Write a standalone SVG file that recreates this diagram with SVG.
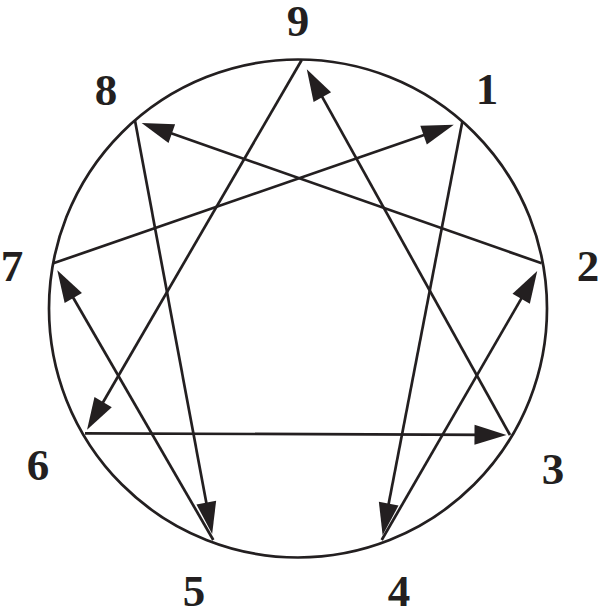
<svg xmlns="http://www.w3.org/2000/svg" width="600" height="610" viewBox="0 0 600 610">
<style>
.ln{stroke:#231f20;stroke-width:2.7;fill:none}
.lbl{font-family:"Liberation Serif","DejaVu Serif",serif;font-weight:bold;font-size:45px;fill:#231f20;text-anchor:middle}
</style>
<defs>
<marker id="ah" markerUnits="userSpaceOnUse" viewBox="-13 -11 34 22" markerWidth="34" markerHeight="22" refX="0" refY="0" orient="auto">
<path d="M20,0 L-12,-10 L-12,10 z" fill="#231f20"/>
</marker>
</defs>
<rect width="600" height="610" fill="#fff"/>
<g id="circle"><circle cx="298" cy="308.5" r="249" class="ln"/></g>
<g id="connectors">
<line class="ln" x1="510" y1="435" x2="316.5" y2="86.7" marker-end="url(#ah)"/>
<line class="ln" x1="301.7" y1="60" x2="97.1" y2="412.5" marker-end="url(#ah)"/>
<line class="ln" x1="85" y1="433.3" x2="486.5" y2="434.9" marker-end="url(#ah)"/>
<line class="ln" x1="462.3" y1="121.7" x2="386.4" y2="515.5" marker-end="url(#ah)"/>
<line class="ln" x1="381.7" y1="540" x2="527.2" y2="288.4" marker-end="url(#ah)"/>
<line class="ln" x1="541.7" y1="263.3" x2="160.5" y2="129.6" marker-end="url(#ah)"/>
<line class="ln" x1="135" y1="120.7" x2="208.5" y2="514.4" marker-end="url(#ah)"/>
<line class="ln" x1="213.3" y1="540" x2="67.3" y2="287.5" marker-end="url(#ah)"/>
<line class="ln" x1="53.3" y1="263.3" x2="434.9" y2="131.2" marker-end="url(#ah)"/>
</g>
<g id="n9"><text class="lbl" x="298" y="36">9</text></g>
<g id="n1"><text class="lbl" x="487" y="104">1</text></g>
<g id="n2"><text class="lbl" x="588" y="281">2</text></g>
<g id="n3"><text class="lbl" x="553" y="484">3</text></g>
<g id="n4"><text class="lbl" x="399" y="606">4</text></g>
<g id="n5"><text class="lbl" x="194" y="606">5</text></g>
<g id="n6"><text class="lbl" x="38" y="480">6</text></g>
<g id="n7"><text class="lbl" x="12" y="281">7</text></g>
<g id="n8"><text class="lbl" x="106" y="105">8</text></g>
</svg>
